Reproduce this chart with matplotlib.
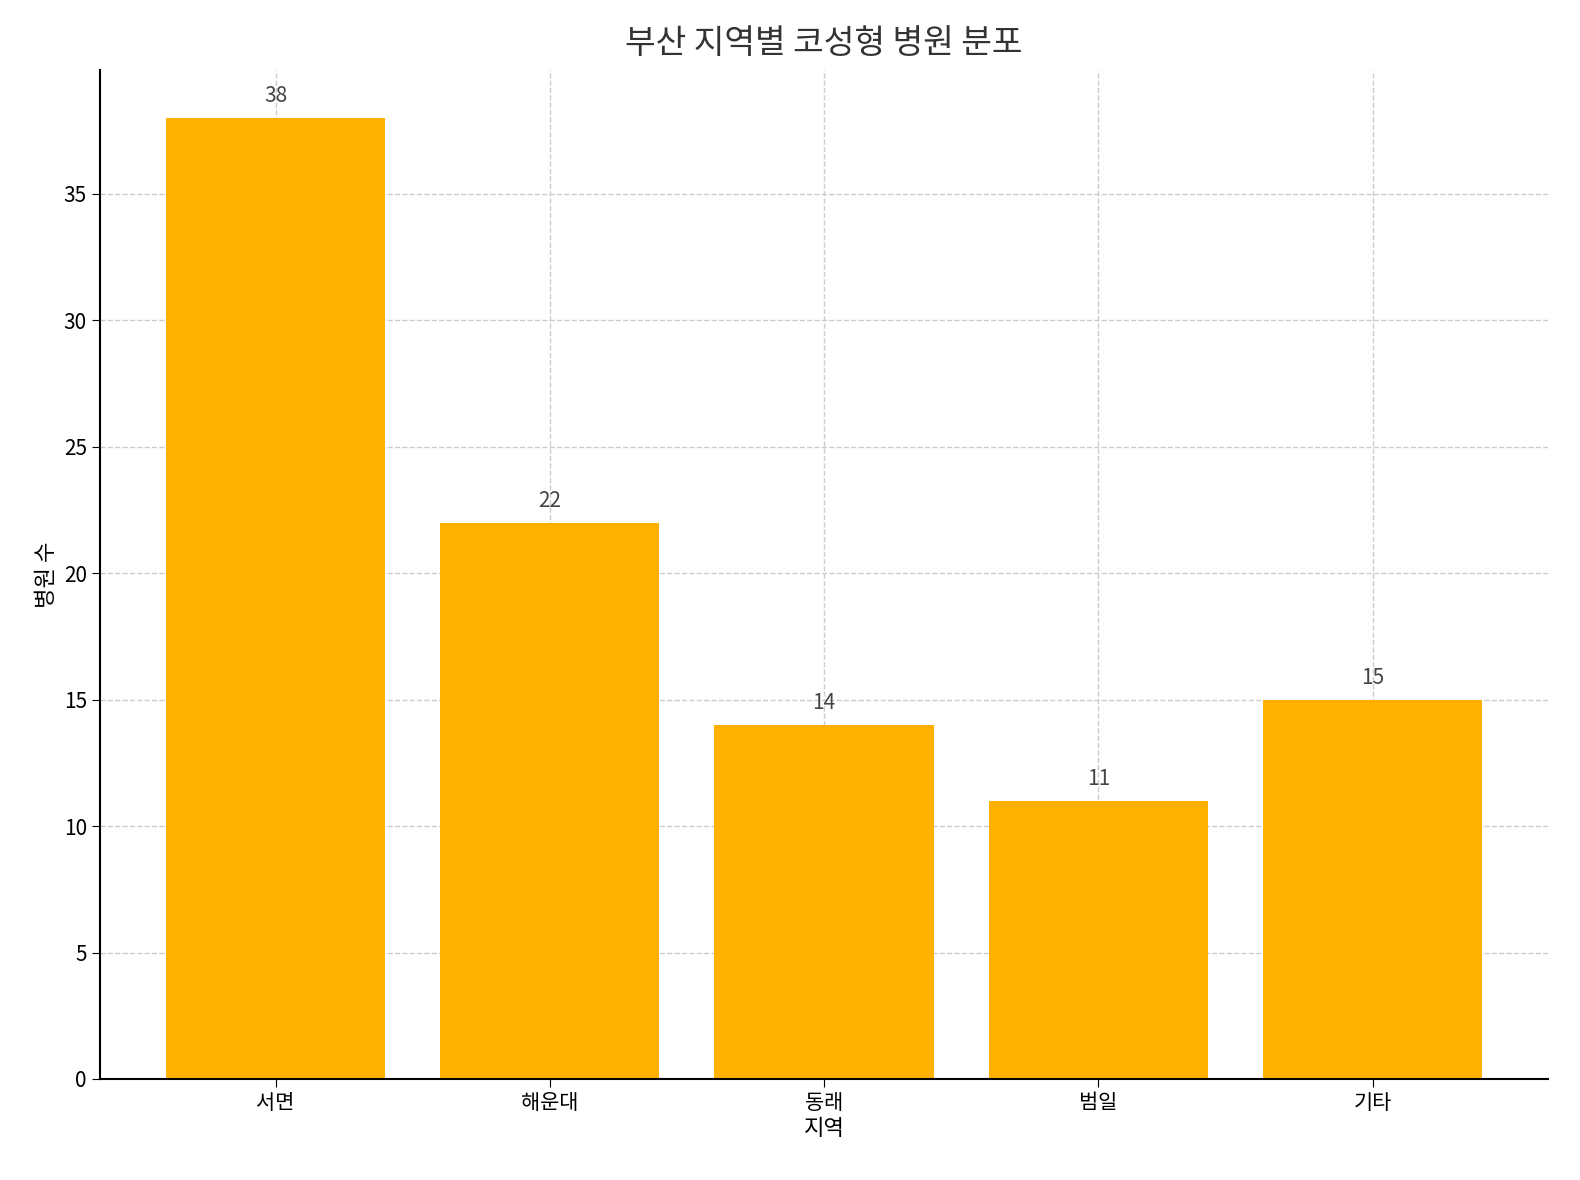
import matplotlib
matplotlib.use("Agg")
import matplotlib.pyplot as plt

plt.rcParams["font.family"] = ["Noto Sans CJK KR", "DejaVu Sans"]

regions = ["서면", "해운대", "동래", "범일", "기타"]
counts = [38, 22, 14, 11, 15]

fig = plt.figure(figsize=(15.8, 11.8), dpi=100)
ax = fig.add_axes([0.0633, 0.0856, 0.9165, 0.855])
bars = ax.bar(regions, counts, color="#FFB000", width=0.8, zorder=2)
for b, v in zip(bars, counts):
    ax.annotate(str(v), (b.get_x() + b.get_width() / 2, v), xytext=(0, 8),
                textcoords="offset points", ha="center", va="bottom",
                fontsize=15, color="#444444")

ax.set_ylim(0, 39.9)
ax.grid(True, ls="--", color="#cccccc", lw=1, zorder=0)
ax.spines["top"].set_visible(False)
ax.spines["right"].set_visible(False)
ax.spines["left"].set_linewidth(1.5)
ax.spines["bottom"].set_linewidth(1.5)
ax.tick_params(labelsize=15, length=6)
ax.set_title("부산 지역별 코성형 병원 분포", fontsize=24, color="#333333", pad=12)
ax.set_xlabel("지역", fontsize=16, labelpad=2)
ax.set_ylabel("병원 수", fontsize=16)

fig.savefig("out.png", dpi=100)
